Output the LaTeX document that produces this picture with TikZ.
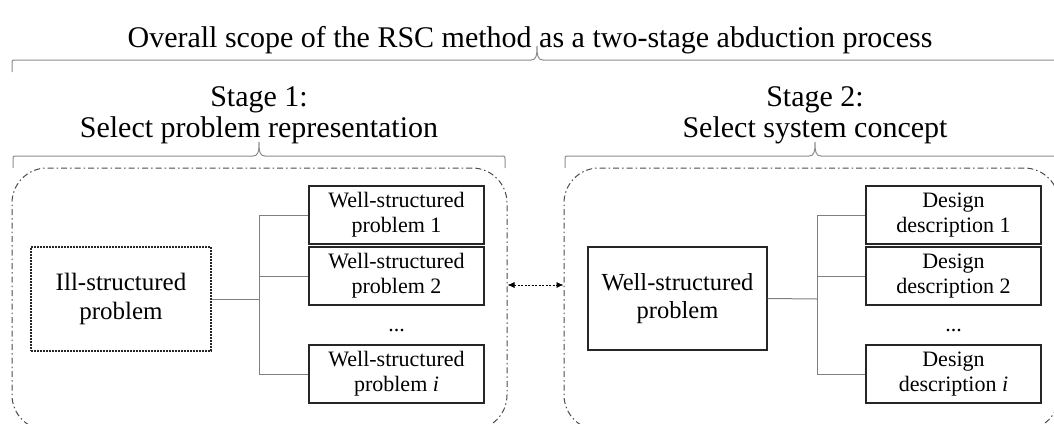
\documentclass[tikz,border=0pt]{standalone}
\usepackage{fontspec}
\setmainfont{Liberation Serif}
\usetikzlibrary{arrows.meta}
\tikzset{
  titletext/.style={font=\fontsize{30}{31}\selectfont, inner sep=0pt},
  stagehead/.style={font=\fontsize{30}{31}\selectfont, align=center, inner sep=0pt},
  stageframe/.style={draw=black!70, line width=1pt, rounded corners=35pt,
    dash pattern=on 6pt off 3pt on 1.5pt off 3pt, minimum width=495pt, minimum height=262pt},
  smallbox/.style={draw=black!85, line width=1.1pt, minimum width=175pt, minimum height=58pt,
    inner sep=0pt, align=center, font=\fontsize{22}{25}\selectfont},
  bigbox/.style={draw=black!85, line width=1.1pt, minimum width=179pt, minimum height=103pt,
    inner sep=0pt, align=center, font=\fontsize{24.5}{28}\selectfont},
  conn/.style={draw=black!50, line width=1pt},
  bracket/.style={draw=black!45, line width=1pt},
  swap/.style={{Latex[length=7pt,width=6pt]}-{Latex[length=7pt,width=6pt]}, line width=0.8pt,
    dash pattern=on 2pt off 1.5pt},
}
% #1 left x, #2 right x, #3 tip x, #4 y of the ends
\newcommand{\scopebrace}[4]{%
  \draw[bracket] (#1,#4) -- (#1,#4-9) .. controls (#1,#4-12) .. (#1+3,#4-12)
    -- (#3-6,#4-12) .. controls (#3-1,#4-12) and (#3,#4-16) .. (#3,#4-26)
    .. controls (#3,#4-16) and (#3+1,#4-12) .. (#3+6,#4-12)
    -- (#2-3,#4-12) .. controls (#2,#4-12) .. (#2,#4-9) -- (#2,#4);}
\begin{document}
\begin{tikzpicture}[x=1pt,y=-1pt]
    \useasboundingbox (0,0) rectangle (1054,423);
    \clip (0,0) rectangle (1054,423);
    \node[titletext, anchor=base] (title) at (530,47) {Overall scope of the RSC method as a two-stage abduction process};
    \scopebrace{12}{1062}{537}{72}
    \node[stagehead] (stage1) at (259,115) {Stage 1:\\Select problem representation};
    \scopebrace{13}{505}{259}{168}
    \node[stagehead] (stage2) at (815,115) {Stage 2:\\Select system concept};
    \scopebrace{565}{1065}{815}{168}
    \node[stageframe] (frame1) at (259.5,299) {};
    \node[stageframe] (frame2) at (811.5,299) {};
    \node[bigbox, minimum width=180pt, minimum height=104pt, dash pattern=on 2pt off 1pt, font=\fontsize{25}{29}\selectfont] (ill) at (121,299) {Ill-structured\\problem};
    \node[smallbox] (w1) at (396.5,215) {Well-structured\\problem 1};
    \node[smallbox] (w2) at (396.5,276) {Well-structured\\problem 2};
    \node[font=\fontsize{22}{25}\selectfont, anchor=base] (dots1) at (396.5,331) {...};
    \node[smallbox] (wi) at (396.5,374) {Well-structured\\problem \textit{i}};
    \coordinate (fork1) at (259,299);
    \draw[conn] (ill.east) -- (fork1);
    \draw[conn] (fork1) |- (w1.west);
    \draw[conn] (fork1) |- (w2.west);
    \draw[conn] (fork1) |- (wi.west);
    \node[bigbox] (wsp) at (677.5,298.5) {Well-structured\\problem};
    \node[smallbox] (d1) at (953.5,215) {Design\\description 1};
    \node[smallbox] (d2) at (953.5,276) {Design\\description 2};
    \node[font=\fontsize{22}{25}\selectfont, anchor=base] (dots2) at (953.5,331) {...};
    \node[smallbox] (di) at (953.5,374) {Design\\description \textit{i}};
    \coordinate (fork2) at (817,299);
    \draw[conn] (wsp.east) -- (fork2);
    \draw[conn] (fork2) |- (d1.west);
    \draw[conn] (fork2) |- (d2.west);
    \draw[conn] (fork2) |- (di.west);
    \draw[swap] ([yshift=14pt]frame1.east) -- ([yshift=14pt]frame2.west);
\end{tikzpicture}
\end{document}
